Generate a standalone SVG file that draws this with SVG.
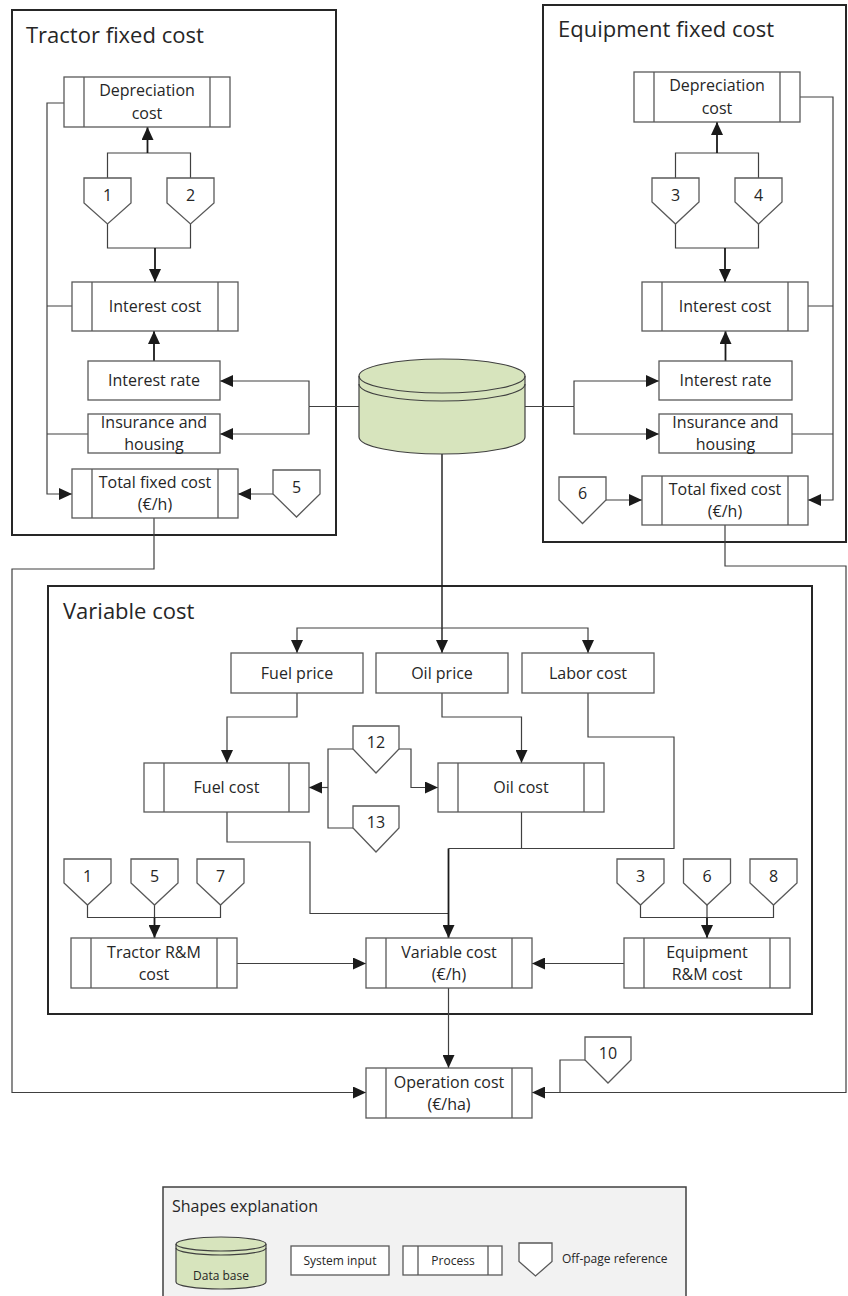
<svg xmlns="http://www.w3.org/2000/svg" width="848" height="1296" viewBox="0 0 848 1296">
<style>
.panel{fill:none;stroke:#262626;stroke-width:2}
.box{fill:#fff;stroke:#595959;stroke-width:1.3}
.bar{fill:none;stroke:#595959;stroke-width:1.3}
.ln{fill:none;stroke:#404040;stroke-width:1.2}
.lk{fill:none;stroke:#1a1a1a;stroke-width:1.8}
.t{font-family:'Open Sans','Liberation Sans',sans-serif;font-size:16px;fill:#262626;text-anchor:middle}
.ti{font-family:'Open Sans','Liberation Sans',sans-serif;font-size:22px;fill:#262626}
.s{font-family:'Open Sans','Liberation Sans',sans-serif;font-size:12px;fill:#262626}
.db{fill:#d7e4bd;stroke:#404040;stroke-width:1.2}
</style>
<defs>
<marker id="ah" viewBox="0 0 13 12" refX="13" refY="6" markerWidth="13" markerHeight="12" markerUnits="userSpaceOnUse" orient="auto"><path d="M0,0 L13,6 L0,12 z" fill="#1a1a1a"/></marker>
</defs>
<rect width="848" height="1296" fill="#fff"/>

<!-- panels -->
<g id="panel-tractor"><rect class="panel" x="12" y="10" width="324" height="525"/><text class="ti" x="26" y="43">Tractor fixed cost</text></g>
<g id="panel-equipment"><rect class="panel" x="543" y="5" width="303" height="537"/><text class="ti" x="558" y="37">Equipment fixed cost</text></g>
<g id="panel-variable"><rect class="panel" x="48" y="586" width="764" height="428"/><text class="ti" x="63" y="619">Variable cost</text></g>

<!-- connectors -->
<g id="connectors">
<!-- tractor -->
<path class="ln" d="M107.5,178 V153 H190.5 V178"/>
<path class="lk" d="M147.5,153 V127" marker-end="url(#ah)"/>
<path class="ln" d="M107.5,224 V248 H190.5 V224"/>
<path class="lk" d="M155,248 V282" marker-end="url(#ah)"/>
<path class="lk" d="M154,361 V331" marker-end="url(#ah)"/>
<path class="ln" d="M64,103 H47 V494 H72" marker-end="url(#ah)"/>
<path class="ln" d="M72,306 H47 M88,434 H47"/>
<path class="ln" d="M273,494 H238" marker-end="url(#ah)"/>
<path class="ln" d="M359,406.5 H309"/>
<path class="ln" d="M309,406.5 V381 H220" marker-end="url(#ah)"/>
<path class="ln" d="M309,406.5 V434 H220" marker-end="url(#ah)"/>
<path class="ln" d="M154,518 V569 H12 V1092.5 H366" marker-end="url(#ah)"/>
<!-- equipment -->
<path class="ln" d="M675.5,178 V153 H758.5 V178"/>
<path class="lk" d="M717,153 V122" marker-end="url(#ah)"/>
<path class="ln" d="M675.5,224 V248 H758.5 V224"/>
<path class="lk" d="M725,248 V282" marker-end="url(#ah)"/>
<path class="lk" d="M725.5,361 V331" marker-end="url(#ah)"/>
<path class="ln" d="M800,97 H833 V500 H808" marker-end="url(#ah)"/>
<path class="ln" d="M808,306 H833 M792,434 H833"/>
<path class="ln" d="M606,500 H642" marker-end="url(#ah)"/>
<path class="ln" d="M525,406.5 H574"/>
<path class="ln" d="M574,406.5 V381 H659" marker-end="url(#ah)"/>
<path class="ln" d="M574,406.5 V434 H659" marker-end="url(#ah)"/>
<path class="ln" d="M725,525 V566 H846 V1092.5 H532" marker-end="url(#ah)"/>
<!-- database to variable -->
<path class="lk" d="M442,454 V628" style="stroke-width:1.4"/>
<path class="ln" d="M442,628 H297 V653" marker-end="url(#ah)"/>
<path class="ln" d="M442,628 H588 V653" marker-end="url(#ah)"/>
<path class="lk" d="M442,628 V653" marker-end="url(#ah)" style="stroke-width:1.4"/>
<!-- variable -->
<path class="ln" d="M297,693 V717 H227 V763" marker-end="url(#ah)"/>
<path class="ln" d="M442,693 V717 H521.5 V763" marker-end="url(#ah)"/>
<path class="ln" d="M353,749 H328 V828 H353"/>
<path class="ln" d="M328,787.5 H309" marker-end="url(#ah)"/>
<path class="ln" d="M399,749 H411 V787.5 H438" marker-end="url(#ah)"/>
<path class="ln" d="M588,693 V737 H674 V848.5 H448.5"/>
<path class="ln" d="M521.5,812 V848.5"/>
<path class="ln" d="M227,812 V842 H310 V913.5 H448.5"/>
<path class="lk" d="M448.5,848.5 V938" marker-end="url(#ah)"/>
<path class="ln" d="M87.5,905 V917.5 H220.5 V905 M154.5,905 V917.5"/>
<path class="lk" d="M154.5,917.5 V938" marker-end="url(#ah)"/>
<path class="ln" d="M640.5,905 V917.5 H773.5 V905 M707,905 V917.5"/>
<path class="lk" d="M707,917.5 V938" marker-end="url(#ah)"/>
<path class="ln" d="M237,963.5 H366" marker-end="url(#ah)"/>
<path class="ln" d="M624,963.5 H532" marker-end="url(#ah)"/>
<path class="ln" d="M448.5,988 V1068" marker-end="url(#ah)"/>
<path class="ln" d="M585,1060 H560 V1092.5"/>
</g>

<!-- tractor nodes -->
<g id="t-depreciation"><rect class="box" x="64" y="77" width="166" height="50"/><path class="bar" d="M84,77 V127 M210,77 V127"/><text class="t" x="147" y="96">Depreciation</text><text class="t" x="147" y="119">cost</text></g>
<g id="t-ref1"><polygon class="box" points="84,178 131,178 131,203 107.5,224 84,203"/><text class="t" x="107.5" y="201">1</text></g>
<g id="t-ref2"><polygon class="box" points="167,178 214,178 214,203 190.5,224 167,203"/><text class="t" x="190.5" y="201">2</text></g>
<g id="t-interest-cost"><rect class="box" x="72" y="282" width="166" height="49"/><path class="bar" d="M92,282 V331 M218,282 V331"/><text class="t" x="155" y="312">Interest cost</text></g>
<g id="t-interest-rate"><rect class="box" x="88" y="361" width="132" height="39"/><text class="t" x="154" y="386">Interest rate</text></g>
<g id="t-insurance"><rect class="box" x="88" y="414" width="132" height="39"/><text class="t" x="154" y="428">Insurance and</text><text class="t" x="154" y="450">housing</text></g>
<g id="t-total"><rect class="box" x="72" y="469" width="166" height="49"/><path class="bar" d="M92,469 V518 M218,469 V518"/><text class="t" x="155" y="488">Total fixed cost</text><text class="t" x="155" y="510">(€/h)</text></g>
<g id="t-ref5"><polygon class="box" points="273,470 320,470 320,494 296.5,517 273,494"/><text class="t" x="296.5" y="493">5</text></g>

<!-- database -->
<g id="database">
<path class="db" d="M359,376 A83,17 0 0 1 525,376 V437 A83,17 0 0 1 359,437 Z"/>
<path class="db" style="fill:none" d="M359,376 A83,17 0 0 0 525,376"/>
<path class="db" style="fill:none" d="M359,384 A83,17 0 0 0 525,384"/>
</g>

<!-- equipment nodes -->
<g id="e-depreciation"><rect class="box" x="634" y="72" width="166" height="50"/><path class="bar" d="M654,72 V122 M780,72 V122"/><text class="t" x="717" y="91">Depreciation</text><text class="t" x="717" y="114">cost</text></g>
<g id="e-ref3"><polygon class="box" points="652,178 699,178 699,202 675.5,224 652,202"/><text class="t" x="675.5" y="201">3</text></g>
<g id="e-ref4"><polygon class="box" points="735,178 782,178 782,202 758.5,224 735,202"/><text class="t" x="758.5" y="201">4</text></g>
<g id="e-interest-cost"><rect class="box" x="642" y="282" width="166" height="49"/><path class="bar" d="M662,282 V331 M788,282 V331"/><text class="t" x="725" y="312">Interest cost</text></g>
<g id="e-interest-rate"><rect class="box" x="659" y="361" width="133" height="39"/><text class="t" x="725.5" y="386">Interest rate</text></g>
<g id="e-insurance"><rect class="box" x="659" y="414" width="133" height="39"/><text class="t" x="725.5" y="428">Insurance and</text><text class="t" x="725.5" y="450">housing</text></g>
<g id="e-total"><rect class="box" x="642" y="476" width="166" height="49"/><path class="bar" d="M662,476 V525 M788,476 V525"/><text class="t" x="725" y="495">Total fixed cost</text><text class="t" x="725" y="517">(€/h)</text></g>
<g id="e-ref6"><polygon class="box" points="559,477 606,477 606,500 582.5,523.5 559,500"/><text class="t" x="582.5" y="499">6</text></g>

<!-- variable nodes -->
<g id="v-fuel-price"><rect class="box" x="231" y="653" width="132" height="40"/><text class="t" x="297" y="679">Fuel price</text></g>
<g id="v-oil-price"><rect class="box" x="376" y="653" width="132" height="40"/><text class="t" x="442" y="679">Oil price</text></g>
<g id="v-labor"><rect class="box" x="522" y="653" width="132" height="40"/><text class="t" x="588" y="679">Labor cost</text></g>
<g id="v-fuel-cost"><rect class="box" x="144" y="763" width="165" height="49"/><path class="bar" d="M164,763 V812 M289,763 V812"/><text class="t" x="226.5" y="793">Fuel cost</text></g>
<g id="v-oil-cost"><rect class="box" x="438" y="763" width="166" height="49"/><path class="bar" d="M458,763 V812 M584,763 V812"/><text class="t" x="521" y="793">Oil cost</text></g>
<g id="v-ref12"><polygon class="box" points="353,726 399,726 399,749 376,773 353,749"/><text class="t" x="376" y="748">12</text></g>
<g id="v-ref13"><polygon class="box" points="353,806 399,806 399,828 376,852 353,828"/><text class="t" x="376" y="828">13</text></g>
<g id="v-ref1"><polygon class="box" points="64,859 111,859 111,883 87.5,905 64,883"/><text class="t" x="87.5" y="882">1</text></g>
<g id="v-ref5"><polygon class="box" points="131,859 178,859 178,883 154.5,905 131,883"/><text class="t" x="154.5" y="882">5</text></g>
<g id="v-ref7"><polygon class="box" points="197,859 244,859 244,883 220.5,905 197,883"/><text class="t" x="220.5" y="882">7</text></g>
<g id="v-ref3"><polygon class="box" points="617,859 664,859 664,883 640.5,905 617,883"/><text class="t" x="640.5" y="882">3</text></g>
<g id="v-ref6"><polygon class="box" points="683.5,859 730.5,859 730.5,883 707,905 683.5,883"/><text class="t" x="707" y="882">6</text></g>
<g id="v-ref8"><polygon class="box" points="750,859 797,859 797,883 773.5,905 750,883"/><text class="t" x="773.5" y="882">8</text></g>
<g id="v-tractor-rm"><rect class="box" x="71" y="938" width="166" height="50"/><path class="bar" d="M91,938 V988 M217,938 V988"/><text class="t" x="154" y="958">Tractor R&amp;M</text><text class="t" x="154" y="980">cost</text></g>
<g id="v-variable"><rect class="box" x="366" y="938" width="166" height="50"/><path class="bar" d="M386,938 V988 M512,938 V988"/><text class="t" x="449" y="958">Variable cost</text><text class="t" x="449" y="980">(€/h)</text></g>
<g id="v-equipment-rm"><rect class="box" x="624" y="938" width="166" height="50"/><path class="bar" d="M644,938 V988 M770,938 V988"/><text class="t" x="707" y="958">Equipment</text><text class="t" x="707" y="980">R&amp;M cost</text></g>

<!-- operation -->
<g id="operation"><rect class="box" x="366" y="1068" width="166" height="50"/><path class="bar" d="M386,1068 V1118 M512,1068 V1118"/><text class="t" x="449" y="1088">Operation cost</text><text class="t" x="449" y="1110">(€/ha)</text></g>
<g id="ref10"><polygon class="box" points="585,1037 631,1037 631,1060 608,1083 585,1060"/><text class="t" x="608" y="1059">10</text></g>

<!-- legend -->
<g id="legend">
<rect x="163" y="1187" width="523" height="120" fill="#f2f2f2" stroke="#404040" stroke-width="1.5"/>
<text x="172" y="1212" style="font-family:'Open Sans','Liberation Sans',sans-serif;font-size:16px;fill:#262626">Shapes explanation</text>
<path class="db" d="M176,1244 A45,7 0 0 1 266,1244 V1282 A45,7 0 0 1 176,1282 Z"/>
<path class="db" style="fill:none" d="M176,1244 A45,7 0 0 0 266,1244"/>
<path class="db" style="fill:none" d="M176,1248 A45,7 0 0 0 266,1248"/>
<text class="s" x="221" y="1280" text-anchor="middle">Data base</text>
<rect class="box" x="291" y="1246" width="98" height="29"/>
<text class="s" x="340" y="1265" text-anchor="middle">System input</text>
<rect class="box" x="403" y="1246" width="99" height="29"/><path class="bar" d="M418,1246 V1275 M488,1246 V1275"/>
<text class="s" x="453" y="1265" text-anchor="middle">Process</text>
<polygon class="box" points="519,1243 552,1243 552,1261.5 535.5,1276 519,1261.5"/>
<text class="s" x="562" y="1263">Off-page reference</text>
</g>
</svg>
